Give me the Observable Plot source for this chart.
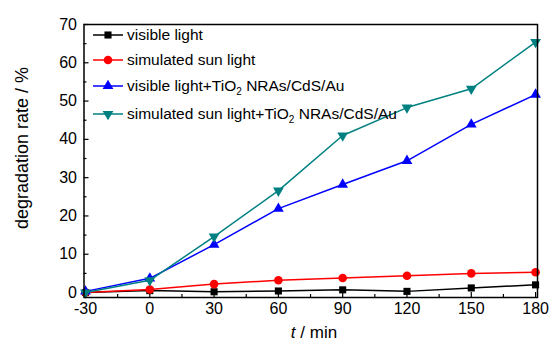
<!DOCTYPE html>
<html>
<head>
<meta charset="utf-8">
<script src="https://cdn.jsdelivr.net/npm/d3@7"></script>
<script src="https://cdn.jsdelivr.net/npm/@observablehq/plot@0.6"></script>
<style>
  body { margin: 0; background: #fff; }
  #wrap { position: relative; width: 550px; height: 343px; font-family: "Liberation Sans", Arial, sans-serif; }
  #wrap > svg { position: absolute; left: 0; top: 0; }
  .leg { position: absolute; left: 92px; font-size: 15.5px; line-height: 1; white-space: nowrap; display: flex; align-items: center; }
  #wrap .leg svg { position: static; margin-right: 3px; flex: none; }
  .leg sub { font-size: 10px; vertical-align: -4px; line-height: 0; }
  #ylab { position: absolute; left: 22px; top: 148px; transform: translate(-50%, -50%) rotate(-90deg); font-size: 18px; line-height: 1; white-space: nowrap; }
  #xlab { position: absolute; left: 314px; top: 324px; transform: translateX(-50%); font-size: 17px; line-height: 1; white-space: nowrap; }
</style>
</head>
<body>
<div id="wrap"></div>
<script>
const times = [-30, 0, 30, 60, 90, 120, 150, 180];
const visibleLight = [0, 0.5, 0.2, 0.4, 0.7, 0.3, 1.2, 2.0];
const simSunLight = [0, 0.8, 2.2, 3.2, 3.8, 4.4, 5.0, 5.3];
const visibleTiO2 = [0.3, 3.7, 12.5, 21.9, 28.2, 34.4, 43.9, 51.7];
const simSunTiO2 = [0, 3.2, 14.6, 26.6, 41.0, 48.3, 53.2, 65.4];
const xTicks = [-30, 0, 30, 60, 90, 120, 150, 180];
const xMinor = [-15, 15, 45, 75, 105, 135, 165];
const yTicks = [0, 10, 20, 30, 40, 50, 60, 70];
const yMinor = [5, 15, 25, 35, 45, 55, 65];

const seriesDefs = [
  {name: "visible light", values: visibleLight, color: "#000000", symbol: "square", r: 4, rotate: 0},
  {name: "simulated sun light", values: simSunLight, color: "#ff0000", symbol: "circle", r: 4.3, rotate: 0},
  {name: "visible light+TiO2 NRAs/CdS/Au", values: visibleTiO2, color: "#0000ff", symbol: "triangle", r: 4, rotate: 0},
  {name: "simulated sun light+TiO2 NRAs/CdS/Au", values: simSunTiO2, color: "#008080", symbol: "triangle", r: 4, rotate: 180}
];

const marks = [];
for (const s of seriesDefs) {
  const data = times.map((t, i) => ({t, v: s.values[i]}));
  marks.push(Plot.line(data, {x: "t", y: "v", stroke: s.color, strokeWidth: 1.5}));
  marks.push(Plot.dot(data, {x: "t", y: "v", fill: s.color, stroke: "none", symbol: s.symbol, r: s.r, rotate: s.rotate}));
}

const fmt = d => String(d);
const blank = () => "";

const chart = Plot.plot({
  width: 550,
  height: 343,
  marginLeft: 83.5,
  marginRight: 13,
  marginTop: 24,
  marginBottom: 46,
  style: {fontFamily: "Liberation Sans, Arial, sans-serif", fontSize: "16px", color: "#000", background: "transparent"},
  x: {domain: [-30.7, 180.9], label: null},
  y: {domain: [-1.3, 70], label: null},
  marks: [
    Plot.axisX({ticks: xTicks, tickSize: 0, tickPadding: 5, tickFormat: fmt, fontSize: 16, label: null}),
    Plot.axisX({ticks: xTicks, tickSize: 5, dy: -5, tickFormat: blank, label: null, strokeWidth: 1.2}),
    Plot.axisX({ticks: xMinor, tickSize: 3, dy: -3, tickFormat: blank, label: null, strokeWidth: 1.2}),
    Plot.axisY({ticks: yTicks, tickSize: 0, tickPadding: 7, tickFormat: fmt, fontSize: 16, label: null}),
    Plot.axisY({ticks: yTicks, tickSize: 5, dx: 5, tickFormat: blank, label: null, strokeWidth: 1.2}),
    Plot.axisY({ticks: yMinor, tickSize: 3, dx: 3, tickFormat: blank, label: null, strokeWidth: 1.2}),
    ...marks,
    Plot.frame({stroke: "#000", strokeWidth: 1.5})
  ]
});

const wrap = document.getElementById("wrap");
wrap.appendChild(chart);

// Legend
const legendTops = [35, 60, 86, 114];
const legendLabels = [
  "visible light",
  "simulated sun light",
  "visible light+TiO<sub>2</sub> NRAs/CdS/Au",
  "simulated sun light+TiO<sub>2</sub> NRAs/CdS/Au"
];
seriesDefs.forEach((s, i) => {
  const row = document.createElement("div");
  row.className = "leg";
  row.style.top = (legendTops[i] - 10) + "px";
  row.style.height = "20px";
  const sym = d3.symbol().type({square: d3.symbolSquare, circle: d3.symbolCircle, triangle: d3.symbolTriangle}[s.symbol]).size(Math.PI * s.r * s.r)();
  row.innerHTML = `<svg width="32" height="20" viewBox="0 0 32 20"><line x1="1" x2="31" y1="10" y2="10" stroke="${s.color}" stroke-width="1.5"/><path d="${sym}" transform="translate(16,10) rotate(${s.rotate})" fill="${s.color}"/></svg><span>${legendLabels[i]}</span>`;
  wrap.appendChild(row);
});

const ylab = document.createElement("div");
ylab.id = "ylab";
ylab.textContent = "degradation rate / %";
wrap.appendChild(ylab);

const xlab = document.createElement("div");
xlab.id = "xlab";
xlab.innerHTML = "<i>t</i> / min";
wrap.appendChild(xlab);
</script>
</body>
</html>
